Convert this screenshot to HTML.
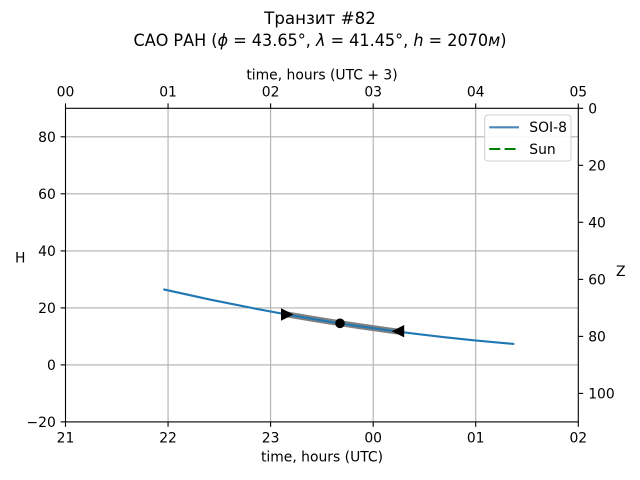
<!DOCTYPE html>
<html><head><meta charset="utf-8"><style>
html,body{margin:0;padding:0;background:#fff;}
svg{display:block;}
text{font-family:"DejaVu Sans","Liberation Sans",sans-serif;fill:#000;}
</style></head><body>
<svg width="640" height="480" viewBox="0 0 640 480" xmlns="http://www.w3.org/2000/svg">
<rect width="640" height="480" fill="#fff"/>
<!-- title -->
<text x="320" y="24" font-size="16.67" text-anchor="middle">Транзит #82</text>
<text x="320" y="46" font-size="16.67" text-anchor="middle" textLength="373" lengthAdjust="spacingAndGlyphs">САО РАН (<tspan font-style="italic">ϕ</tspan> = 43.65°, <tspan font-style="italic">λ</tspan> = 41.45°, <tspan font-style="italic">h</tspan> = 2070<tspan font-style="italic">м</tspan>)</text>

<!-- grid -->
<g stroke="#b0b0b0" stroke-width="1.1">
<line x1="168.06" y1="108.3" x2="168.06" y2="421.9"/>
<line x1="270.6" y1="108.3" x2="270.6" y2="421.9"/>
<line x1="373.2" y1="108.3" x2="373.2" y2="421.9"/>
<line x1="475.7" y1="108.3" x2="475.7" y2="421.9"/>
<line x1="65.5" y1="136.8" x2="578.3" y2="136.8"/>
<line x1="65.5" y1="193.8" x2="578.3" y2="193.8"/>
<line x1="65.5" y1="250.9" x2="578.3" y2="250.9"/>
<line x1="65.5" y1="307.9" x2="578.3" y2="307.9"/>
<line x1="65.5" y1="364.9" x2="578.3" y2="364.9"/>
</g>

<!-- gray segment -->
<path d="M283.3,313.8 Q340,323.8 398,331.6" fill="none" stroke="#808080" stroke-width="6" stroke-linecap="butt"/>
<!-- curve -->
<path d="M163.3,289.3 Q338.8,329.6 514.3,344" fill="none" stroke="#1f77b4" stroke-width="2.1"/>
<!-- markers -->
<polygon points="281.0,308.3 293.5,314.5 281.0,320.7" fill="#000"/>
<polygon points="404.2,325.0 391.7,331.2 404.2,337.4" fill="#000"/>
<circle cx="340" cy="323.3" r="4.8" fill="#000"/>

<!-- spines -->
<rect x="65.5" y="108.3" width="512.8" height="313.6" fill="none" stroke="#000" stroke-width="1.1"/>

<!-- bottom ticks -->
<g stroke="#000" stroke-width="1.1">
<line x1="65.5" y1="421.9" x2="65.5" y2="426.8"/>
<line x1="168.06" y1="421.9" x2="168.06" y2="426.8"/>
<line x1="270.6" y1="421.9" x2="270.6" y2="426.8"/>
<line x1="373.2" y1="421.9" x2="373.2" y2="426.8"/>
<line x1="475.7" y1="421.9" x2="475.7" y2="426.8"/>
<line x1="578.3" y1="421.9" x2="578.3" y2="426.8"/>
<!-- top ticks -->
<line x1="65.5" y1="108.3" x2="65.5" y2="103.4"/>
<line x1="168.06" y1="108.3" x2="168.06" y2="103.4"/>
<line x1="270.6" y1="108.3" x2="270.6" y2="103.4"/>
<line x1="373.2" y1="108.3" x2="373.2" y2="103.4"/>
<line x1="475.7" y1="108.3" x2="475.7" y2="103.4"/>
<line x1="578.3" y1="108.3" x2="578.3" y2="103.4"/>
<!-- left ticks -->
<line x1="65.5" y1="136.8" x2="60.6" y2="136.8"/>
<line x1="65.5" y1="193.8" x2="60.6" y2="193.8"/>
<line x1="65.5" y1="250.9" x2="60.6" y2="250.9"/>
<line x1="65.5" y1="307.9" x2="60.6" y2="307.9"/>
<line x1="65.5" y1="364.9" x2="60.6" y2="364.9"/>
<line x1="65.5" y1="421.9" x2="60.6" y2="421.9"/>
<!-- right ticks -->
<line x1="578.3" y1="108.3" x2="583.2" y2="108.3"/>
<line x1="578.3" y1="165.3" x2="583.2" y2="165.3"/>
<line x1="578.3" y1="222.3" x2="583.2" y2="222.3"/>
<line x1="578.3" y1="279.4" x2="583.2" y2="279.4"/>
<line x1="578.3" y1="336.4" x2="583.2" y2="336.4"/>
<line x1="578.3" y1="393.4" x2="583.2" y2="393.4"/>
</g>

<g font-size="13.9">
<!-- bottom tick labels -->
<g text-anchor="middle">
<text x="65.5" y="442.3">21</text>
<text x="168.06" y="442.3">22</text>
<text x="270.6" y="442.3">23</text>
<text x="373.2" y="442.3">00</text>
<text x="475.7" y="442.3">01</text>
<text x="578.3" y="442.3">02</text>
<!-- top tick labels -->
<text x="65.5" y="96.7">00</text>
<text x="168.06" y="96.7">01</text>
<text x="270.6" y="96.7">02</text>
<text x="373.2" y="96.7">03</text>
<text x="475.7" y="96.7">04</text>
<text x="578.3" y="96.7">05</text>
<text x="322" y="461.7">time, hours (UTC)</text>
<text x="322" y="79.3">time, hours (UTC + 3)</text>
<text x="20.2" y="262.3">H</text>
<text x="620.8" y="276">Z</text>
</g>
<!-- left labels -->
<g text-anchor="end">
<text x="55.8" y="141.8">80</text>
<text x="55.8" y="198.8">60</text>
<text x="55.8" y="255.9">40</text>
<text x="55.8" y="312.9">20</text>
<text x="55.8" y="369.9">0</text>
<text x="55.8" y="426.9">−20</text>
</g>
<!-- right labels -->
<g text-anchor="start">
<text x="588.2" y="113.3">0</text>
<text x="588.2" y="170.3">20</text>
<text x="588.2" y="227.3">40</text>
<text x="588.2" y="284.4">60</text>
<text x="588.2" y="341.4">80</text>
<text x="588.2" y="398.4">100</text>
</g>
</g>

<!-- legend -->
<rect x="484.7" y="115" width="86.3" height="46" rx="3" ry="3" fill="#fff" fill-opacity="0.9" stroke="#d0d0d0" stroke-width="1"/>
<line x1="489.3" y1="127.3" x2="519" y2="127.3" stroke="#4a86b8" stroke-width="2.1"/>
<text x="529.3" y="132.2" font-size="13.9">SOI-8</text>
<line x1="489.3" y1="149" x2="519" y2="149" stroke="#008000" stroke-width="2.1" stroke-dasharray="11,4.3"/>
<text x="529.3" y="153.9" font-size="13.9">Sun</text>
</svg>
</body></html>
